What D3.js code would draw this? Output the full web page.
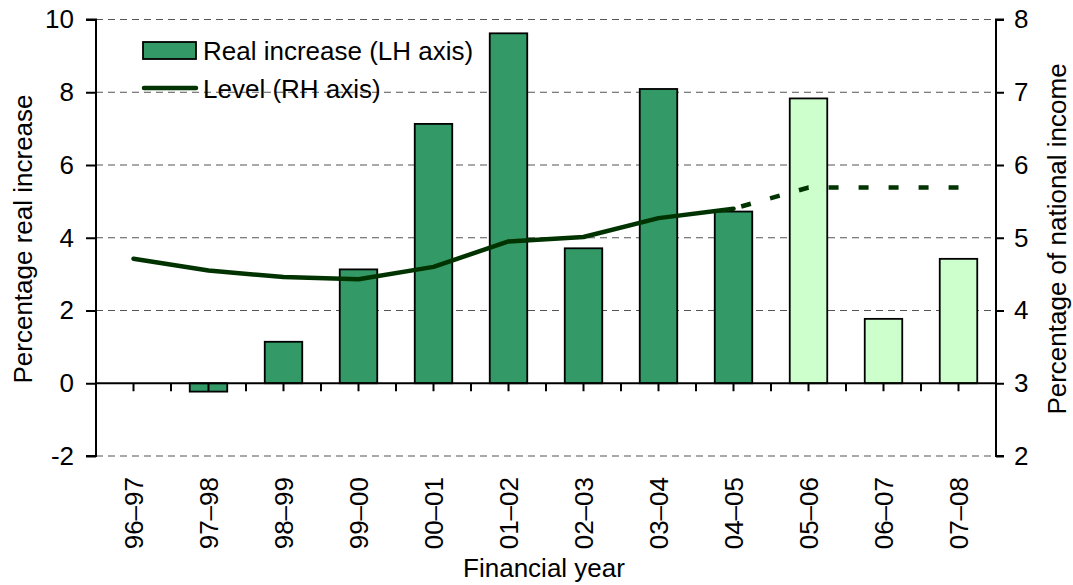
<!DOCTYPE html>
<html><head><meta charset="utf-8">
<script src="https://cdn.jsdelivr.net/npm/d3@7"></script>
<style>
body{margin:0;background:#fff;}
text{font-family:"Liberation Sans",Arial,sans-serif;fill:#000;}
</style></head>
<body>
<svg id="chart" width="1073" height="585"></svg>
<script>
const categories = ["96–97","97–98","98–99","99–00","00–01","01–02","02–03","03–04","04–05","05–06","06–07","07–08"];
const realIncrease = [0, -0.23, 1.14, 3.13, 7.13, 9.62, 3.71, 8.09, 4.72, 7.83, 1.77, 3.42];
const isForecast = [false,false,false,false,false,false,false,false,false,true,true,true];
const level = [4.71, 4.55, 4.46, 4.43, 4.60, 4.95, 5.01, 5.27, 5.40, 5.69, 5.69, 5.69];
const leftTicks = [-2, 0, 2, 4, 6, 8, 10];
const rightTicks = [2, 3, 4, 5, 6, 7, 8];
const lastActual = 8;

const svg = d3.select("#chart");
const L = 96, R = 996, T = 19.5, B = 456;
const FS = 26;

const x = d3.scaleBand().domain(categories).range([L, R]).paddingInner(0.5).paddingOuter(0.25);
const yL = d3.scaleLinear().domain([-2, 10]).range([B, T]);
const yR = d3.scaleLinear().domain([2, 8]).range([B, T]);

// gridlines
svg.append("g").selectAll("line").data(leftTicks.filter(d => d !== 0)).join("line")
  .attr("x1", L).attr("x2", R).attr("y1", d => yL(d)).attr("y2", d => yL(d))
  .attr("stroke", "#555").attr("stroke-width", 1.2).attr("stroke-dasharray", "7,5");

// bars
svg.append("g").selectAll("rect").data(categories.map((c, i) => ({c, v: realIncrease[i], f: isForecast[i]})).filter(d => d.v !== 0))
  .join("rect")
  .attr("x", d => x(d.c)).attr("width", x.bandwidth())
  .attr("y", d => yL(Math.max(0, d.v))).attr("height", d => Math.abs(yL(d.v) - yL(0)))
  .attr("fill", d => d.f ? "#CCFFCC" : "#339966")
  .attr("stroke", "#000").attr("stroke-width", 1.8);

// x axis at zero with ticks at centres and boundaries
const xTickPos = d3.range(0, categories.length * 2 + 1).map(k => L + k * x.step() / 2);
const xAxisG = svg.append("g");
xAxisG.append("line").attr("x1", L).attr("x2", R).attr("y1", yL(0)).attr("y2", yL(0)).attr("stroke", "#000").attr("stroke-width", 2);
xAxisG.selectAll("line.t").data(xTickPos.slice(1, -1)).join("line").attr("class", "t")
  .attr("x1", d => d).attr("x2", d => d).attr("y1", yL(0)).attr("y2", yL(0) + 8)
  .attr("stroke", "#000").attr("stroke-width", 2);

// x labels
svg.append("g").selectAll("text").data(categories).join("text")
  .attr("transform", d => `translate(${x(d) + x.bandwidth() / 2},477) rotate(-90)`)
  .attr("text-anchor", "end").attr("dy", "0.35em")
  .style("font-size", FS + "px").text(d => d);

// left axis
const leftAxis = d3.axisLeft(yL).tickValues(leftTicks).tickSize(10).tickFormat(d => String(d));
const gl = svg.append("g").attr("transform", `translate(${L},0)`).call(leftAxis);
gl.select(".domain").attr("stroke", "#000").attr("stroke-width", 2).attr("d", `M-10,${T}H0V${B}H-10`);
gl.selectAll(".tick line").attr("stroke", "#000").attr("stroke-width", 2);
gl.selectAll(".tick text").style("font-size", FS + "px").style("font-family", "Liberation Sans, Arial, sans-serif").attr("x", -22).attr("fill", "#000");

// right axis
const rightAxis = d3.axisRight(yR).tickValues(rightTicks).tickSize(8).tickFormat(d => String(d));
const gr = svg.append("g").attr("transform", `translate(${R},0)`).call(rightAxis);
gr.select(".domain").attr("stroke", "#000").attr("stroke-width", 2).attr("d", `M8,${T}H0V${B}H8`);
gr.selectAll(".tick line").attr("stroke", "#000").attr("stroke-width", 2);
gr.selectAll(".tick text").style("font-size", FS + "px").style("font-family", "Liberation Sans, Arial, sans-serif").attr("x", 18).attr("fill", "#000");

// line
const cx = i => x(categories[i]) + x.bandwidth() / 2;
const lineGen = d3.line().x(d => cx(d)).y(d => yR(level[d]));
const idx = d3.range(categories.length);
svg.append("path").attr("d", lineGen(idx.slice(0, lastActual + 1)))
  .attr("fill", "none").attr("stroke", "#003300").attr("stroke-width", 4.5).attr("stroke-linejoin", "round").attr("stroke-linecap", "round");
svg.append("path").attr("d", lineGen(idx.slice(lastActual)))
  .attr("fill", "none").attr("stroke", "#003300").attr("stroke-width", 4.5).attr("stroke-dasharray", "10,20").attr("stroke-dashoffset", -8);

// axis titles
svg.append("text").attr("transform", "translate(32,239) rotate(-90)").attr("text-anchor", "middle")
  .style("font-size", FS + "px").text("Percentage real increase");
svg.append("text").attr("transform", "translate(1047,239) rotate(-90)").attr("text-anchor", "middle").attr("dy", "0.72em")
  .style("font-size", FS + "px").text("Percentage of national income");
svg.append("text").attr("x", 544).attr("y", 577).attr("text-anchor", "middle")
  .style("font-size", FS + "px").text("Financial year");

// legend
const lg = svg.append("g");
lg.append("rect").attr("x", 143).attr("y", 42).attr("width", 53).attr("height", 17)
  .attr("fill", "#339966").attr("stroke", "#000").attr("stroke-width", 1.8);
lg.append("text").attr("x", 203).attr("y", 60).style("font-size", FS + "px").text("Real increase (LH axis)");
lg.append("line").attr("x1", 144).attr("x2", 196).attr("y1", 88).attr("y2", 88)
  .attr("stroke", "#003300").attr("stroke-width", 4.5).attr("stroke-linecap", "round");
lg.append("text").attr("x", 203).attr("y", 98).style("font-size", FS + "px").text("Level (RH axis)");
</script>
</body></html>
